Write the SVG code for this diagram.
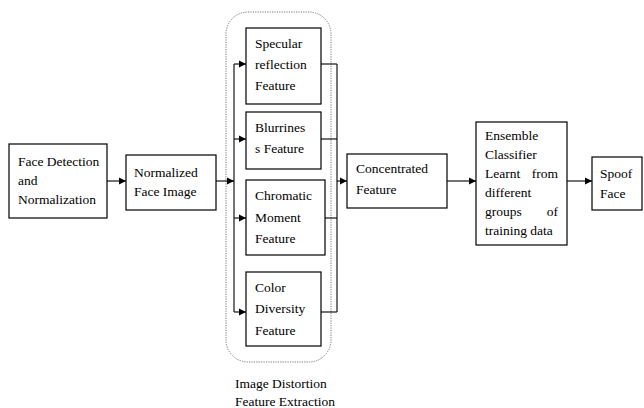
<svg xmlns="http://www.w3.org/2000/svg" width="644" height="408" viewBox="0 0 644 408">
<defs>
<marker id="ah" markerWidth="8" markerHeight="8" refX="7" refY="4" orient="auto" markerUnits="userSpaceOnUse">
<path d="M0,0.5 L7,4 L0,7.5 Z" fill="#000"/>
</marker>
<style>
text{font-family:"Liberation Serif","Times New Roman",serif;font-size:13.5px;fill:#000}
.box{fill:#fff;stroke:#000;stroke-width:1.2}
.ln{fill:none;stroke:#000;stroke-width:1.1}
.arr{fill:none;stroke:#000;stroke-width:1.1;marker-end:url(#ah)}
.grp{fill:none;stroke:#777;stroke-width:1;stroke-dasharray:1.2,1.2}
</style>
</defs>
<rect width="644" height="408" fill="#fff"/>
<g id="container">
<rect class="grp" x="226" y="12" width="105" height="350" rx="22" ry="22"/>
<text x="235" y="388">Image Distortion</text>
<text x="235" y="406">Feature Extraction</text>
</g>
<g id="connectors">
<line class="arr" x1="107" y1="181" x2="126" y2="181"/>
<line class="arr" x1="216" y1="181" x2="234" y2="181"/>
<line class="ln" x1="234" y1="64" x2="234" y2="312"/>
<line class="arr" x1="234" y1="64" x2="246" y2="64"/>
<line class="arr" x1="234" y1="139" x2="246" y2="139"/>
<line class="arr" x1="234" y1="218" x2="246" y2="218"/>
<line class="arr" x1="234" y1="312" x2="246" y2="312"/>
<line class="ln" x1="321" y1="64" x2="337" y2="64"/>
<line class="ln" x1="321" y1="139" x2="337" y2="139"/>
<line class="ln" x1="325" y1="218" x2="337" y2="218"/>
<line class="ln" x1="321" y1="312" x2="337" y2="312"/>
<line class="ln" x1="337" y1="64" x2="337" y2="312"/>
<line class="arr" x1="337" y1="181" x2="347" y2="181"/>
<line class="arr" x1="447" y1="181" x2="476" y2="181"/>
<line class="arr" x1="567" y1="181" x2="592" y2="181"/>
</g>
<g id="face-detection">
<rect class="box" x="9" y="144" width="98" height="74"/>
<text x="18" y="166">Face Detection</text>
<text x="18" y="185">and</text>
<text x="18" y="204">Normalization</text>
</g>
<g id="normalized">
<rect class="box" x="126" y="155" width="90" height="55"/>
<text x="134" y="177">Normalized</text>
<text x="134" y="196">Face Image</text>
</g>
<g id="specular">
<rect class="box" x="246" y="28" width="75" height="76"/>
<text x="255" y="48">Specular</text>
<text x="255" y="69">reflection</text>
<text x="255" y="90">Feature</text>
</g>
<g id="blurriness">
<rect class="box" x="246" y="112" width="75" height="57"/>
<text x="255" y="132">Blurrines</text>
<text x="255" y="153">s Feature</text>
</g>
<g id="chromatic">
<rect class="box" x="246" y="180" width="79" height="75"/>
<text x="255" y="200">Chromatic</text>
<text x="255" y="222">Moment</text>
<text x="255" y="243">Feature</text>
</g>
<g id="color-diversity">
<rect class="box" x="246" y="272" width="75" height="74"/>
<text x="255" y="292">Color</text>
<text x="255" y="313">Diversity</text>
<text x="255" y="335">Feature</text>
</g>
<g id="concentrated">
<rect class="box" x="347" y="154" width="100" height="54"/>
<text x="356" y="173">Concentrated</text>
<text x="356" y="194">Feature</text>
</g>
<g id="ensemble">
<rect class="box" x="476" y="122" width="91" height="123"/>
<text x="485" y="140">Ensemble</text>
<text x="485" y="159">Classifier</text>
<text x="485" y="178">Learnt</text>
<text x="558" y="178" text-anchor="end">from</text>
<text x="485" y="197">different</text>
<text x="485" y="216">groups</text>
<text x="558" y="216" text-anchor="end">of</text>
<text x="485" y="235">training data</text>
</g>
<g id="spoof">
<rect class="box" x="592" y="157" width="50" height="53"/>
<text x="600" y="178">Spoof</text>
<text x="600" y="198">Face</text>
</g>
</svg>
